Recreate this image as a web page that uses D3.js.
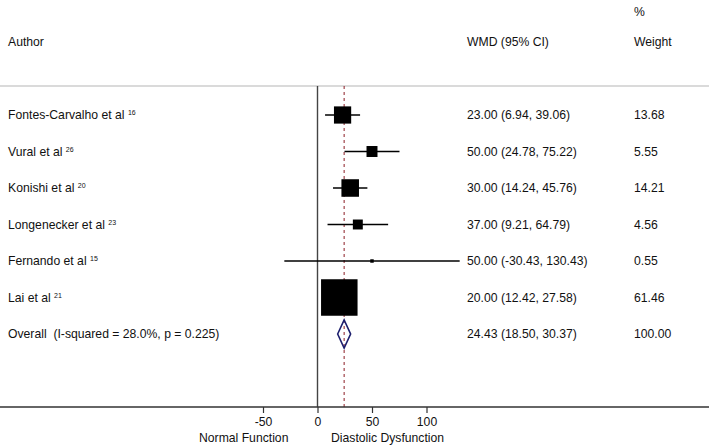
<!DOCTYPE html>
<html>
<head>
<meta charset="utf-8">
<script src="https://cdn.jsdelivr.net/npm/d3@7"></script>
<style>
  body { margin: 0; background: #fff; }
  text { font-family: "Liberation Sans", Arial, Helvetica, sans-serif; font-size: 12.2px; fill: #111; }
</style>
</head>
<body>
<div id="chart"></div>
<script>
const authors = ["Fontes-Carvalho et al", "Vural et al", "Konishi et al", "Longenecker et al", "Fernando et al", "Lai et al"];
const refs = ["16", "26", "20", "23", "15", "21"];
const effects = [23.00, 50.00, 30.00, 37.00, 50.00, 20.00];
const lower = [6.94, 24.78, 14.24, 9.21, -30.43, 12.42];
const upper = [39.06, 75.22, 45.76, 64.79, 130.43, 27.58];
const weights = [13.68, 5.55, 14.21, 4.56, 0.55, 61.46];
const overall = { label: "Overall  (I-squared = 28.0%, p = 0.225)", est: 24.43, lo: 18.50, hi: 30.37, weight: 100.00 };
const ticks = [-50, 0, 50, 100];

const width = 709, height = 445;
const svg = d3.select("#chart").append("svg")
    .attr("width", width)
    .attr("height", height);

const x = d3.scaleLinear().domain([0, 100]).range([317.5, 426.5]);
const y = d3.scaleLinear().domain([0, 6]).range([115, 334]);
const size = d3.scaleSqrt().domain([0, 61.46]).range([0, 36.5]);
// hyphen-minus like the original, not the unicode minus
const fmt = v => d3.format(".2f")(v).replace("\u2212", "-");

const topY = 86, axisY = 407;

// headers
svg.append("text").attr("x", 8).attr("y", 46).text("Author");
svg.append("text").attr("x", 467).attr("y", 46).text("WMD (95% CI)");
svg.append("text").attr("x", 634).attr("y", 16).text("%");
svg.append("text").attr("x", 634).attr("y", 46).text("Weight");

// frame lines
svg.append("line").attr("x1", 0).attr("x2", width).attr("y1", topY).attr("y2", topY)
    .attr("stroke", "#b5b5b5").attr("stroke-width", 1);
svg.append("line").attr("x1", x(0)).attr("x2", x(0)).attr("y1", topY).attr("y2", axisY)
    .attr("stroke", "#444").attr("stroke-width", 1.4);

// pooled estimate line, behind the boxes
svg.append("line").attr("x1", x(overall.est)).attr("x2", x(overall.est)).attr("y1", topY).attr("y2", axisY)
    .attr("stroke", "#8b1c24").attr("stroke-width", 1).attr("stroke-dasharray", "3,3");

// axis
const axis = svg.append("g").attr("transform", `translate(0,${axisY})`)
    .call(d3.axisBottom(x).tickValues(ticks).tickSize(6).tickPadding(4).tickFormat(d => String(d)));
axis.select(".domain").remove();
axis.selectAll(".tick line").attr("stroke", "#333").attr("stroke-width", 1.2);
axis.selectAll(".tick text").style("font-size", "12.2px").attr("fill", "#111");
svg.append("line").attr("x1", 0).attr("x2", width).attr("y1", axisY).attr("y2", axisY)
    .attr("stroke", "#333").attr("stroke-width", 1.4);

svg.append("text").attr("x", 199).attr("y", 442).text("Normal Function");
svg.append("text").attr("x", 331).attr("y", 442).text("Diastolic Dysfunction");

// study rows
const rows = svg.append("g").selectAll("g")
    .data(authors.map((a, i) => ({ a, r: refs[i], est: effects[i], lo: lower[i], hi: upper[i], w: weights[i], i })))
    .join("g");

rows.append("line")
    .attr("x1", d => x(d.lo)).attr("x2", d => x(d.hi))
    .attr("y1", d => y(d.i)).attr("y2", d => y(d.i))
    .attr("stroke", "#000").attr("stroke-width", 1.4);

rows.append("rect")
    .attr("x", d => x(d.est) - size(d.w) / 2)
    .attr("y", d => y(d.i) - size(d.w) / 2)
    .attr("width", d => size(d.w))
    .attr("height", d => size(d.w))
    .attr("fill", "#000");

const lab = rows.append("text").attr("x", 8).attr("y", d => y(d.i) + 4);
lab.append("tspan").text(d => d.a + " ");
lab.append("tspan").attr("dy", -4).style("font-size", "7px").text(d => d.r);

rows.append("text").attr("x", 467).attr("y", d => y(d.i) + 4)
    .text(d => `${fmt(d.est)} (${fmt(d.lo)}, ${fmt(d.hi)})`);
rows.append("text").attr("x", 634).attr("y", d => y(d.i) + 4)
    .text(d => fmt(d.w));

// overall
const oy = y(6);
svg.append("path")
    .attr("d", `M${x(overall.lo)},${oy} L${x(overall.est)},${oy - 14} L${x(overall.hi)},${oy} L${x(overall.est)},${oy + 14} Z`)
    .attr("fill", "none").attr("stroke", "#1d1f6e").attr("stroke-width", 1.6);
svg.append("text").attr("x", 8).attr("y", oy + 4).attr("xml:space", "preserve").text(overall.label);
svg.append("text").attr("x", 467).attr("y", oy + 4)
    .text(`${fmt(overall.est)} (${fmt(overall.lo)}, ${fmt(overall.hi)})`);
svg.append("text").attr("x", 634).attr("y", oy + 4).text(fmt(overall.weight));
</script>
</body>
</html>
